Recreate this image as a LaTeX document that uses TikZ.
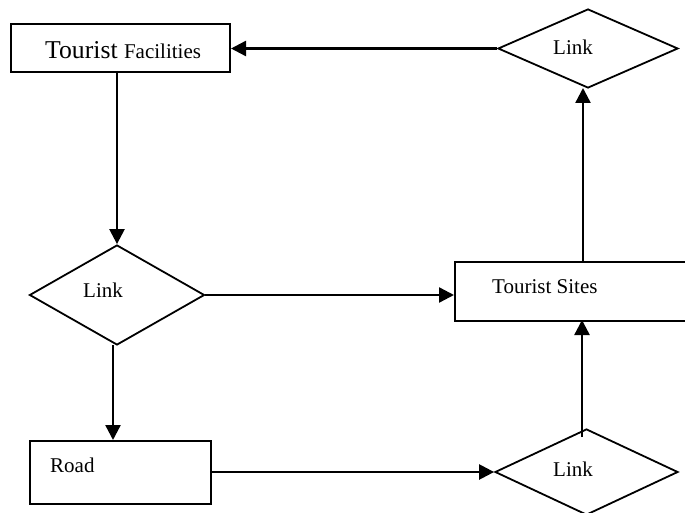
\documentclass[tikz,border=0pt]{standalone}
\usepackage{fontspec}
\setmainfont{Liberation Serif}
\usetikzlibrary{shapes.geometric,arrows.meta}
\begin{document}
\begin{tikzpicture}[x=1pt,y=-1pt,
  boxnode/.style={draw,line width=2pt,rectangle,inner sep=0pt,anchor=north west},
  linknode/.style={draw,line width=1.8pt,diamond,inner sep=0pt},
  lbl/.style={anchor=base west,inner sep=0pt,font=\fontsize{21}{24}\selectfont},
  conn/.style={line width=2.4pt,-{Triangle[length=15pt,width=15pt]}}]
\clip (0,0) rectangle (685,513);
\fill[white] (0,0) rectangle (685,513);
% boxes
\node[boxnode,minimum width=219pt,minimum height=48pt] (tf) at (10,23) {};
\node[boxnode,minimum width=240pt,minimum height=59pt] (ts) at (454,261) {};
\node[boxnode,minimum width=181pt,minimum height=63pt] (road) at (29,440) {};
% diamonds
\node[linknode,minimum width=180pt,minimum height=79pt] (l1) at (588,48.5) {};
\node[linknode,minimum width=175pt,minimum height=100pt] (l2) at (117,295) {};
\node[linknode,minimum width=183pt,minimum height=86pt] (l3) at (586.5,472) {};
% labels
\node[anchor=base west,inner sep=0pt] (tft) at (45,59) {\fontsize{25.7}{30}\selectfont Tourist \fontsize{21}{24}\selectfont Facilities};
\node[lbl] (tst) at (492,293) {Tourist Sites};
\node[lbl] (rdt) at (50,472) {Road};
\node[lbl] (l1t) at (553,55) {Link};
\node[lbl] (l2t) at (83,297) {Link};
\node[lbl] (l3t) at (553,476) {Link};
% connectors
\coordinate (c1) at (583,261);
\coordinate (c1e) at (583,88);
\coordinate (c6) at (582,437);
\coordinate (c6e) at (582,320);
\coordinate (c2s) at (117,71);
\coordinate (c4s) at (113,345);
\coordinate (c4e) at (113,440);
\coordinate (c5s) at (210,472);
\draw[conn] (l1.west) -- (tf.east |- l1.west);
\draw[conn] (c2s) -- (l2.north);
\draw[conn] (l2.east) -- (ts.west |- l2.east);
\draw[conn] (c4s) -- (c4e);
\draw[conn] (c5s) -- (l3.west);
\draw[conn] (c6) -- (c6e);
\draw[conn] (c1) -- (c1e);
\end{tikzpicture}
\end{document}
